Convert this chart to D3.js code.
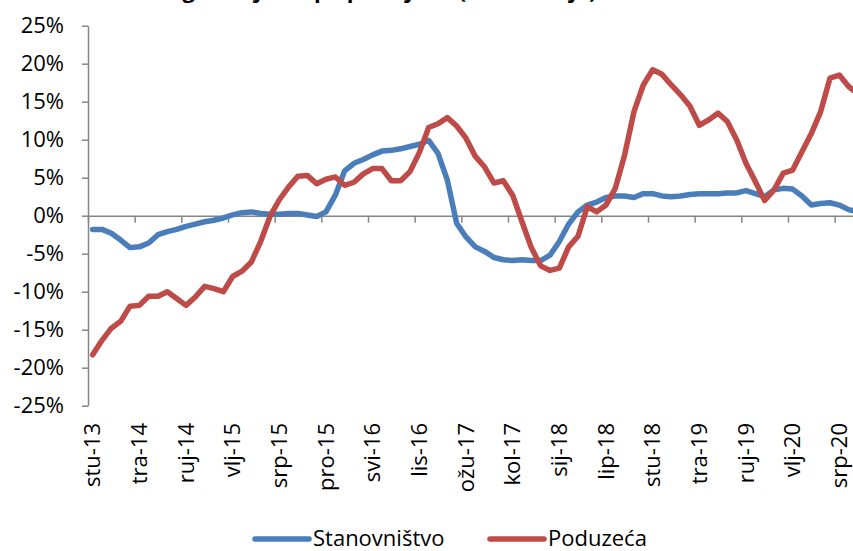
<!DOCTYPE html>
<html lang="hr">
<head>
<meta charset="utf-8">
<title>Krediti</title>
<style>
  body { margin: 0; background: #fff; }
  text { font-family: "Open Sans", sans-serif; }
</style>
</head>
<body>
<script src="https://cdn.jsdelivr.net/npm/d3@7"></script>
<script>
// mjesečne kategorije od stu-13 nadalje
var months = ["stu", "pro", "sij", "vlj", "ožu", "tra", "svi", "lip", "srp", "kol", "ruj", "lis"];
var startYear = 13;

var stanovnistvo = [-1.8,-1.8,-2.3,-3.2,-4.2,-4.1,-3.6,-2.5,-2.1,-1.8,
  -1.4,-1.1,-0.8,-0.6,-0.3,0.1,0.4,0.5,0.3,0.2,
  0.2,0.3,0.3,0.1,-0.1,0.5,2.7,5.9,6.9,7.4,
  8.0,8.5,8.6,8.8,9.1,9.4,9.9,8.2,4.7,-1.0,
  -2.8,-4.1,-4.7,-5.5,-5.8,-5.9,-5.8,-5.9,-5.9,-5.2,
  -3.4,-1.1,0.5,1.4,1.8,2.4,2.6,2.6,2.4,2.9,
  2.9,2.6,2.5,2.6,2.8,2.9,2.9,2.9,3.0,3.0,
  3.3,2.9,2.5,3.4,3.6,3.5,2.6,1.4,1.6,1.7,
  1.4,0.8,0.5];

var poduzeca = [-18.3,-16.4,-14.8,-13.9,-11.9,-11.8,-10.6,-10.6,-10.0,-10.9,
  -11.8,-10.7,-9.3,-9.6,-10.0,-8.0,-7.3,-6.1,-3.4,-0.1,
  2.1,3.8,5.2,5.3,4.2,4.8,5.1,4.0,4.4,5.5,
  6.2,6.2,4.6,4.6,5.8,8.3,11.6,12.1,12.9,11.8,
  10.2,7.8,6.4,4.3,4.6,2.7,-0.8,-4.2,-6.6,-7.2,
  -6.9,-4.1,-2.7,1.2,0.5,1.4,3.6,8.0,13.7,17.2,
  19.2,18.6,17.2,15.9,14.4,11.9,12.6,13.5,12.4,10.0,
  6.9,4.5,2.0,3.4,5.6,6.0,8.4,10.8,13.7,18.1,
  18.5,17.0,16.0];

var yTicks = [-25,-20,-15,-10,-5,0,5,10,15,20,25];
var seriesNames = ["Stanovništvo", "Poduzeća"];
var colors = ["#4a7ebb", "#be4b48"];

// oznaka kategorije: mjesec-godina (godina se mijenja na "sij")
var labels = stanovnistvo.map(function(d, i){
    var yr = startYear + Math.floor((i + 10) / 12);
    return months[i % 12] + "-" + yr;
});

var size = {width: 853, height: 551};
var step = 9.333;
var left = 88;

var svg = d3.select("body").append("svg")
    .attr("width", size.width)
    .attr("height", size.height);

var x = d3.scaleLinear()
    .domain([0, labels.length])
    .range([left, left + labels.length * step]);

var y = d3.scaleLinear()
    .domain([-25, 25])
    .range([405.7, 25.7]);

// naslov (odrezan na vrhu slike)
svg.append("text")
    .attr("x", 96)
    .attr("y", -2)
    .attr("font-size", 22)
    .attr("font-weight", "bold")
    .text("Krediti: godišnje stope promjene (transakcije)");

// y os
var yAxis = svg.append("g")
    .attr("transform", "translate(" + left + ",0)")
    .call(d3.axisLeft(y).tickValues(yTicks).tickSize(6).tickSizeOuter(0).tickPadding(18)
        .tickFormat(function(d){ return d + "%"; }));
yAxis.select(".domain").attr("stroke", "#868686").attr("stroke-width", 1.5);
yAxis.selectAll(".tick line").attr("stroke", "#868686").attr("stroke-width", 1.5);
yAxis.selectAll(".tick text").attr("font-size", 22).attr("fill", "#000")
    .attr("font-family", "Open Sans, sans-serif");

// x os na 0%
var tickIdx = d3.range(0, labels.length, 5);
var xAxis = svg.append("g")
    .attr("transform", "translate(0," + y(0) + ")")
    .call(d3.axisBottom(x).tickValues(tickIdx).tickSize(7).tickSizeOuter(0).tickFormat(""));
xAxis.select(".domain").attr("stroke", "#868686").attr("stroke-width", 1.5);
xAxis.selectAll(".tick line").attr("stroke", "#868686").attr("stroke-width", 1.5);

svg.append("g").selectAll("text")
    .data(tickIdx)
    .enter().append("text")
    .attr("transform", function(i){ return "translate(" + x(i + 0.5) + ",423) rotate(-90)"; })
    .attr("text-anchor", "end")
    .attr("dy", "0.35em")
    .attr("font-size", 22)
    .text(function(i){ return labels[i]; });

// linije
var line = d3.line()
    .x(function(d, i){ return x(i + 0.5); })
    .y(function(d){ return y(d); });

[stanovnistvo, poduzeca].forEach(function(s, k){
    svg.append("path")
        .datum(s)
        .attr("fill", "none")
        .attr("stroke", colors[k])
        .attr("stroke-width", 5.5)
        .attr("stroke-linejoin", "round")
        .attr("stroke-linecap", "round")
        .attr("d", line);
});

// legenda
var legendX = [255, 490];
var legend = svg.append("g");
seriesNames.forEach(function(name, k){
    legend.append("line")
        .attr("x1", legendX[k]).attr("x2", legendX[k] + 54)
        .attr("y1", 539).attr("y2", 539)
        .attr("stroke", colors[k])
        .attr("stroke-width", 5.5)
        .attr("stroke-linecap", "round");
    legend.append("text")
        .attr("x", legendX[k] + 58)
        .attr("y", 546)
        .attr("font-size", 22)
        .text(name);
});
</script>
</body>
</html>
